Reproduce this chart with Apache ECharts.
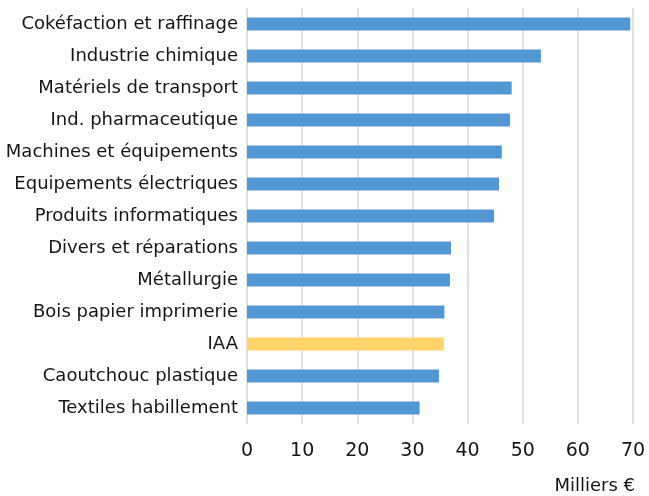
<!DOCTYPE html>
<html>
<head>
<meta charset="utf-8">
<script src="https://cdn.jsdelivr.net/npm/echarts@6/dist/echarts.min.js"></script>
<style>
  html, body { margin: 0; padding: 0; background: #fff; }
  #chart { width: 649px; height: 496px; }
</style>
</head>
<body>
<div id="chart"></div>
<script>
// secteurs, du haut vers le bas
var secteurs = ['Cokéfaction et raffinage', 'Industrie chimique', 'Matériels de transport',
  'Ind. pharmaceutique', 'Machines et équipements', 'Equipements électriques',
  'Produits informatiques', 'Divers et réparations', 'Métallurgie',
  'Bois papier imprimerie', 'IAA', 'Caoutchouc plastique', 'Textiles habillement'];
var valeurs = [69.5, 53.3, 48.0, 47.7, 46.2, 45.7, 44.8, 37.0, 36.8, 35.8, 35.7, 34.8, 31.3];
var surligne = 'IAA';
var xTicks = [0, 10, 20, 30, 40, 50, 60, 70];

var myChart = echarts.init(document.getElementById('chart'));
var police = 'DejaVu Sans';

var option = {
  animation: false,
  grid: { left: 247, right: 16, top: 8, bottom: 72, outerBoundsMode: 'none' },
  xAxis: {
    type: 'value',
    min: xTicks[0],
    max: xTicks[xTicks.length - 1],
    interval: 10,
    axisLine: { show: false },
    axisTick: { show: false },
    axisLabel: { fontFamily: police, fontSize: 19, color: '#161616', margin: 18 },
    splitLine: { lineStyle: { color: '#d9d9d9', width: 1.5 } }
  },
  yAxis: {
    type: 'category',
    inverse: true,
    data: secteurs,
    axisLine: { show: false },
    axisTick: { show: false },
    axisLabel: { fontFamily: police, fontSize: 18, color: '#161616', margin: 9 }
  },
  series: [{
    type: 'bar',
    barWidth: 13,
    data: valeurs.map(function (v, i) {
      return {
        value: v,
        itemStyle: { color: secteurs[i] === surligne ? '#ffd56b' : '#5397d2' }
      };
    })
  }],
  graphic: [{
    type: 'text',
    right: 14,
    top: 477,
    style: { text: 'Milliers €', fontFamily: police, fontSize: 18, fill: '#161616' }
  }]
};
myChart.setOption(option);
</script>
</body>
</html>
